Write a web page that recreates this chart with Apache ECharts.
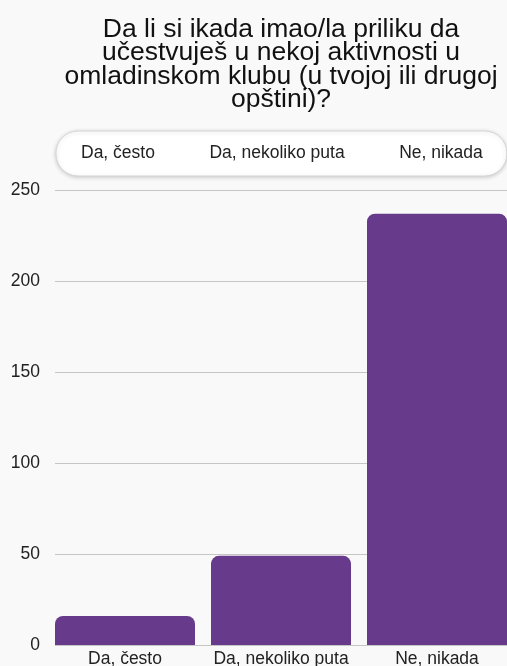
<!DOCTYPE html>
<html>
<head>
<meta charset="utf-8">
<script src="https://cdn.jsdelivr.net/npm/echarts@6/dist/echarts.min.js"></script>
<style>
html,body{margin:0;padding:0;background:#f9f9f9;}
#c{width:507px;height:666px;}
</style>
</head>
<body>
<div id="c"></div>
<script>
const titleText = 'Da li si ikada imao/la priliku da\nučestvuješ u nekoj aktivnosti u\nomladinskom klubu (u tvojoj ili drugoj\nopštini)?';
const categories = ['Da, često', 'Da, nekoliko puta', 'Ne, nikada'];
const values = [16, 49, 237];
const yMin = 0, yMax = 250, yStep = 50;

const FONT = "'Liberation Sans', Arial, Helvetica, sans-serif";
const PURPLE = '#673a8b';

const series = categories.map((name, i) => ({
  name: name,
  type: 'bar',
  stack: 'all',
  xAxisIndex: 1,
  yAxisIndex: 1,
  barWidth: 140,
  data: categories.map((c, j) => (j === i ? values[i] : '-')),
  itemStyle: { color: PURPLE, borderRadius: [8, 8, 0, 0] },
  emphasis: { disabled: true }
}));

const chart = echarts.init(document.getElementById('c'), null, { renderer: 'canvas' });
chart.setOption({
  backgroundColor: '#f9f9f9',
  animation: false,
  textStyle: { fontFamily: FONT },
  title: {
    text: titleText,
    left: 276,
    top: 13,
    textAlign: 'center',
    textStyle: { fontFamily: FONT, fontSize: 26.5, fontWeight: 'normal', color: '#111', lineHeight: 23.3 }
  },
  legend: {
    data: categories,
    left: 56,
    top: 131,
    padding: [12, 24, 12, 20],
    itemGap: 49.5,
    itemWidth: 0,
    itemHeight: 21,
    icon: 'rect',
    backgroundColor: '#ffffff',
    borderColor: '#d6d6d6',
    borderWidth: 1,
    borderRadius: 22,
    shadowBlur: 4,
    shadowColor: 'rgba(0,0,0,0.18)',
    shadowOffsetY: 1,
    selectedMode: false,
    textStyle: { fontFamily: FONT, fontSize: 17.5, color: '#222' }
  },
  grid: [
    { left: 55, right: 0, top: 190, bottom: 21, containLabel: false, outerBoundsMode: 'none' },
    { left: 47, right: -8, top: 190, bottom: 21, containLabel: false, outerBoundsMode: 'none' }
  ],
  xAxis: [
    { gridIndex: 0, type: 'value', show: false, min: 0, max: 1 },
    {
      gridIndex: 1, type: 'category', data: categories,
      axisLine: { show: false }, axisTick: { show: false },
      axisLabel: { fontFamily: FONT, fontSize: 17.5, color: '#222', margin: 5, interval: 0, hideOverlap: false }
    }
  ],
  yAxis: [
    {
      gridIndex: 0, type: 'value', min: yMin, max: yMax, interval: yStep,
      axisLine: { show: false }, axisTick: { show: false },
      axisLabel: { fontFamily: FONT, fontSize: 17.5, color: '#222', margin: 15 },
      splitLine: { lineStyle: { color: '#c6c6c6', width: 1 } }
    },
    {
      gridIndex: 1, type: 'value', min: yMin, max: yMax, interval: yStep,
      show: false, splitLine: { show: false }
    }
  ],
  series: series
});
</script>
</body>
</html>
